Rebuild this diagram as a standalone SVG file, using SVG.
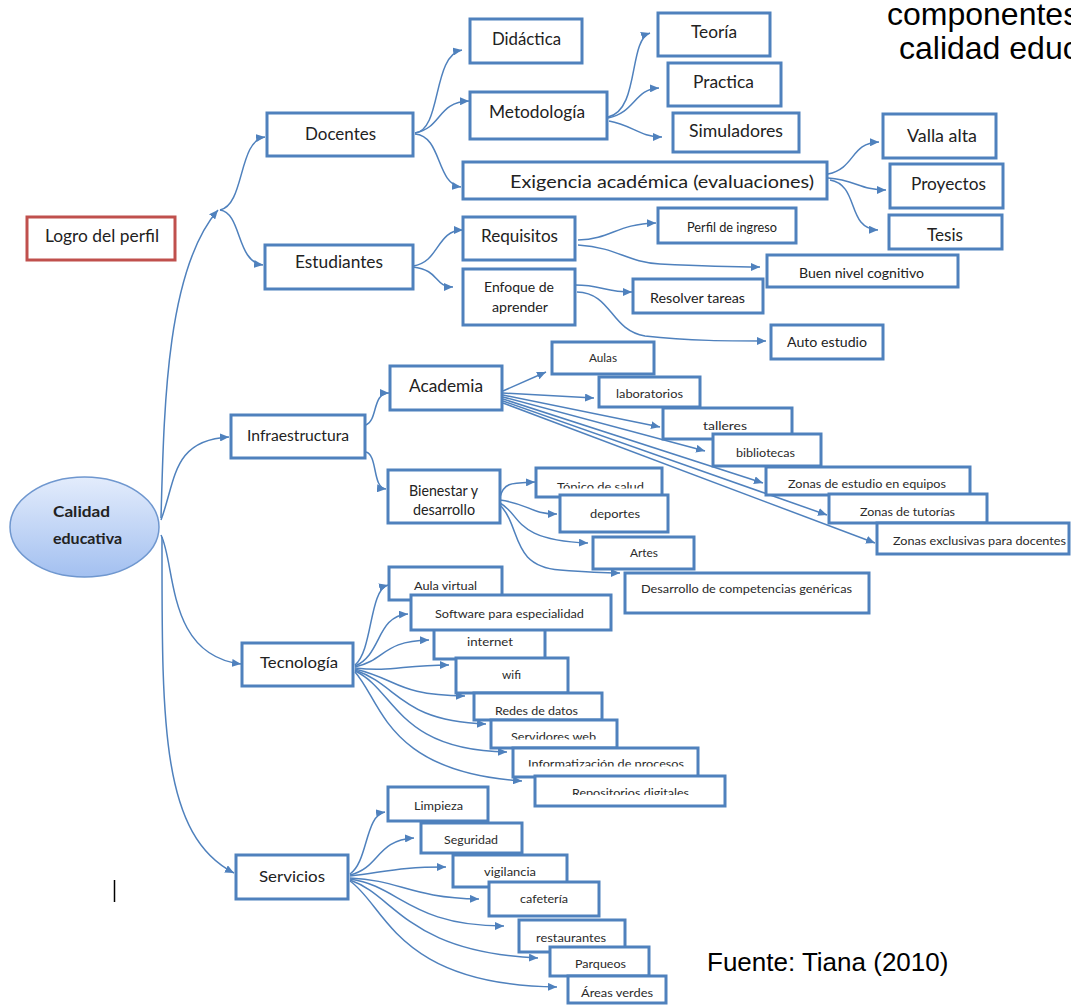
<svg xmlns="http://www.w3.org/2000/svg" width="1071" height="1005" viewBox="0 0 1071 1005">
  <style>
    .box { fill: #ffffff; stroke: #4f81bd; stroke-width: 3; }
    .box-red { fill: #ffffff; stroke: #c0504d; stroke-width: 3; }
    .lbl { font-family: Lato, "Open Sans", sans-serif; fill: #222222; text-anchor: middle; }
    .big { font-size: 17px; }
    .mid { font-size: 14px; }
    .sm { font-size: 12px; fill: #2a2a2a; }
    .bold { font-weight: bold; }
    .conn path { fill: none; stroke: #4f81bd; stroke-width: 1.5; marker-end: url(#arrow); }
    .note { font-family: "Liberation Sans", Arial, sans-serif; fill: #000000; }
  </style>
  <defs>
    <marker id="arrow" viewBox="0 0 9 8" refX="9" refY="4" markerWidth="9" markerHeight="8" markerUnits="userSpaceOnUse" orient="auto">
      <path d="M0,0 L9,4 L0,8 z" fill="#4f81bd"/>
    </marker>
    <linearGradient id="ovalFill" x1="0" y1="0" x2="0" y2="1">
      <stop offset="0" stop-color="#e3ecfc"/>
      <stop offset="1" stop-color="#a3c0f0"/>
    </linearGradient>
    <clipPath id="clipTopico"><rect x="536" y="468" width="126" height="20.5"/></clipPath>
    <clipPath id="clipServidores"><rect x="491" y="720" width="126" height="19.5"/></clipPath>
    <clipPath id="clipInfo"><rect x="513" y="748" width="185" height="18.5"/></clipPath>
    <clipPath id="clipRepo"><rect x="535" y="776" width="190" height="19"/></clipPath>
    <clipPath id="clipEquipos"><rect x="766" y="467" width="204" height="23"/></clipPath>
    <clipPath id="clipCognitivo"><rect x="767" y="255" width="191" height="26"/></clipPath>
    <clipPath id="clipParqueos"><rect x="550" y="947" width="99" height="23"/></clipPath>
  </defs>

  <rect width="1071" height="1005" fill="#ffffff"/>

  <!-- heading and source -->
  <text class="note" x="887" y="25" font-size="32">componentes</text>
  <text class="note" x="899" y="59" font-size="32">calidad educ</text>
  <text class="note" x="707" y="971" font-size="26">Fuente: Tiana (2010)</text>
  <line x1="114.5" y1="880" x2="114.5" y2="902" stroke="#000000" stroke-width="1.5"/>

  <!-- connectors -->
  <g id="connectors" class="conn">
    <path d="M161,518 C164,410 166,270 218,210"/>
    <path d="M220,210 C245,205 238,140 265,137"/>
    <path d="M220,210 C242,213 236,262 263,265"/>
    <path d="M161,520 C176,480 172,440 229,437"/>
    <path d="M161,535 C176,565 166,655 241,664"/>
    <path d="M162,537 C162,720 160,835 234,873"/>

    <path d="M415,133 C442,130 432,55 462,50"/>
    <path d="M415,133 C442,128 437,102 469,101"/>
    <path d="M415,134 C442,136 436,184 461,187"/>

    <path d="M608,117 C640,110 628,40 650,33"/>
    <path d="M608,118 C636,112 634,89 659,88"/>
    <path d="M609,121 C632,125 640,137 662,137"/>

    <path d="M828,174 C856,168 850,143 879,142"/>
    <path d="M828,178 C856,180 860,190 886,190"/>
    <path d="M830,180 C860,185 846,229 878,230"/>

    <path d="M413,266 C440,262 436,230 463,230"/>
    <path d="M413,267 C440,270 434,287 453,287"/>

    <path d="M578,240 C612,239 616,224 656,223"/>
    <path d="M578,245 C620,248 625,262 660,264 C700,266 735,267 760,267"/>
    <path d="M575,285 C602,285 604,292 632,292"/>
    <path d="M577,292 C612,293 610,330 645,336 C690,341 730,341 766,341"/>

    <path d="M366,425 C378,420 372,393 389,393"/>
    <path d="M366,452 C378,455 372,488 386,489"/>

    <path d="M503,391 L546,372"/>
    <path d="M503,393 L594,398"/>
    <path d="M503,395 L660,427"/>
    <path d="M503,397 L705,451"/>
    <path d="M503,399 L763,483"/>
    <path d="M503,401 L827,515"/>
    <path d="M503,403 L875,543"/>

    <path d="M500,497 C504,482 512,483 535,482"/>
    <path d="M500,500 C530,504 530,514 557,514"/>
    <path d="M500,503 C522,515 512,540 588,543"/>
    <path d="M500,505 C522,528 510,566 560,570 C585,572 600,573 620,573"/>

    <path d="M355,665 C373,650 369,590 388,585"/>
    <path d="M355,666 C382,655 376,616 408,614"/>
    <path d="M355,667 C386,660 382,641 429,640"/>
    <path d="M355,668 C392,672 402,665 449,665"/>
    <path d="M355,669 C400,680 396,695 465,696"/>
    <path d="M355,670 C400,686 400,721 486,724"/>
    <path d="M355,671 C396,690 396,750 507,752"/>
    <path d="M355,672 C382,702 386,772 522,781"/>

    <path d="M350,874 C368,862 365,815 385,812"/>
    <path d="M350,875 C380,868 376,840 414,838"/>
    <path d="M350,876 C390,871 400,867 446,867"/>
    <path d="M350,878 C400,880 410,898 479,899"/>
    <path d="M350,879 C400,886 410,926 504,926"/>
    <path d="M350,880 C396,896 406,952 538,958"/>
    <path d="M350,881 C386,906 396,985 557,987"/>
  </g>

  <!-- root -->
  <g id="node-calidad">
    <ellipse cx="84.5" cy="527" rx="74.5" ry="50" fill="url(#ovalFill)" stroke="#6f97cf" stroke-width="1.5"/>
    <text class="lbl bold" x="81.5" y="517" font-size="16" textLength="57" lengthAdjust="spacingAndGlyphs">Calidad</text>
    <text class="lbl bold" x="87.5" y="544" font-size="16" textLength="69" lengthAdjust="spacingAndGlyphs">educativa</text>
  </g>

  <g id="node-logro">
    <rect class="box-red" x="27" y="217" width="148" height="43"/>
    <text class="lbl big" x="102" y="242" textLength="114" lengthAdjust="spacingAndGlyphs">Logro del perfil</text>
  </g>

  <!-- first level -->
  <g id="node-docentes">
    <rect class="box" x="267" y="113" width="146" height="43"/>
    <text class="lbl big" x="340.5" y="140" textLength="71" lengthAdjust="spacingAndGlyphs">Docentes</text>
  </g>
  <g id="node-estudiantes">
    <rect class="box" x="265" y="245" width="148" height="44"/>
    <text class="lbl big" x="339" y="268" textLength="88" lengthAdjust="spacingAndGlyphs">Estudiantes</text>
  </g>
  <g id="node-infraestructura">
    <rect class="box" x="231" y="415" width="134" height="43"/>
    <text class="lbl" x="298" y="441" font-size="15.5" textLength="102" lengthAdjust="spacingAndGlyphs">Infraestructura</text>
  </g>
  <g id="node-tecnologia">
    <rect class="box" x="242" y="643" width="111" height="43"/>
    <text class="lbl" x="299" y="668" font-size="16" textLength="78" lengthAdjust="spacingAndGlyphs">Tecnología</text>
  </g>
  <g id="node-servicios">
    <rect class="box" x="236" y="855" width="112" height="44"/>
    <text class="lbl" x="292" y="882" font-size="16" textLength="66" lengthAdjust="spacingAndGlyphs">Servicios</text>
  </g>

  <!-- Docentes branch -->
  <g id="node-didactica">
    <rect class="box" x="470" y="19" width="112" height="44"/>
    <text class="lbl big" x="526.5" y="45" textLength="69" lengthAdjust="spacingAndGlyphs">Didáctica</text>
  </g>
  <g id="node-metodologia">
    <rect class="box" x="470" y="92" width="137" height="47"/>
    <text class="lbl big" x="537" y="118" textLength="96" lengthAdjust="spacingAndGlyphs">Metodología</text>
  </g>
  <g id="node-exigencia">
    <rect class="box" x="463" y="162" width="364" height="37"/>
    <text class="lbl big" x="662" y="188" textLength="304" lengthAdjust="spacingAndGlyphs">Exigencia académica (evaluaciones)</text>
  </g>
  <g id="node-teoria">
    <rect class="box" x="658" y="13" width="112" height="43"/>
    <text class="lbl big" x="714" y="38" textLength="46" lengthAdjust="spacingAndGlyphs">Teoría</text>
  </g>
  <g id="node-practica">
    <rect class="box" x="668" y="63" width="113" height="43"/>
    <text class="lbl big" x="723.5" y="88" textLength="61" lengthAdjust="spacingAndGlyphs">Practica</text>
  </g>
  <g id="node-simuladores">
    <rect class="box" x="673" y="113" width="126" height="39"/>
    <text class="lbl big" x="736" y="137" textLength="94" lengthAdjust="spacingAndGlyphs">Simuladores</text>
  </g>
  <g id="node-valla">
    <rect class="box" x="883" y="114" width="113" height="44"/>
    <text class="lbl big" x="942" y="142" textLength="70" lengthAdjust="spacingAndGlyphs">Valla alta</text>
  </g>
  <g id="node-proyectos">
    <rect class="box" x="890" y="164" width="113" height="44"/>
    <text class="lbl big" x="948.5" y="190" textLength="75" lengthAdjust="spacingAndGlyphs">Proyectos</text>
  </g>
  <g id="node-tesis">
    <rect class="box" x="889" y="215" width="113" height="34"/>
    <text class="lbl big" x="945" y="241" textLength="36" lengthAdjust="spacingAndGlyphs">Tesis</text>
  </g>

  <!-- Estudiantes branch -->
  <g id="node-requisitos">
    <rect class="box" x="463" y="217" width="112" height="43"/>
    <text class="lbl big" x="519.5" y="242" textLength="77" lengthAdjust="spacingAndGlyphs">Requisitos</text>
  </g>
  <g id="node-enfoque">
    <rect class="box" x="463" y="269" width="112" height="56"/>
    <text class="lbl mid" x="519" y="292" textLength="70" lengthAdjust="spacingAndGlyphs">Enfoque de</text>
    <text class="lbl mid" x="520" y="312" textLength="56" lengthAdjust="spacingAndGlyphs">aprender</text>
  </g>
  <g id="node-perfil">
    <rect class="box" x="658" y="208" width="138" height="35"/>
    <text class="lbl" x="732" y="232" font-size="13" textLength="90" lengthAdjust="spacingAndGlyphs">Perfil de ingreso</text>
  </g>
  <g id="node-cognitivo">
    <rect class="box" x="767" y="255" width="191" height="32"/>
    <text class="lbl" x="861.5" y="278" font-size="13" textLength="125" lengthAdjust="spacingAndGlyphs" clip-path="url(#clipCognitivo)">Buen nivel cognitivo</text>
  </g>
  <g id="node-resolver">
    <rect class="box" x="633" y="279" width="130" height="34"/>
    <text class="lbl mid" x="697.5" y="303" textLength="95" lengthAdjust="spacingAndGlyphs">Resolver tareas</text>
  </g>
  <g id="node-autoestudio">
    <rect class="box" x="771" y="325" width="112" height="34"/>
    <text class="lbl mid" x="827" y="347" textLength="80" lengthAdjust="spacingAndGlyphs">Auto estudio</text>
  </g>

  <!-- Infraestructura branch -->
  <g id="node-academia">
    <rect class="box" x="390" y="366" width="112" height="44"/>
    <text class="lbl big" x="446" y="392" textLength="74" lengthAdjust="spacingAndGlyphs">Academia</text>
  </g>
  <g id="node-bienestar">
    <rect class="box" x="388" y="470" width="112" height="53"/>
    <text class="lbl" x="443.5" y="496" font-size="14.5" textLength="69" lengthAdjust="spacingAndGlyphs">Bienestar y</text>
    <text class="lbl" x="444" y="515" font-size="14.5" textLength="62" lengthAdjust="spacingAndGlyphs">desarrollo</text>
  </g>
  <g id="node-aulas">
    <rect class="box" x="552" y="342" width="102" height="32"/>
    <text class="lbl sm" x="603" y="362" textLength="28" lengthAdjust="spacingAndGlyphs">Aulas</text>
  </g>
  <g id="node-laboratorios">
    <rect class="box" x="599" y="377" width="101" height="30"/>
    <text class="lbl sm" x="649.5" y="398" textLength="67" lengthAdjust="spacingAndGlyphs">laboratorios</text>
  </g>
  <g id="node-talleres">
    <rect class="box" x="663" y="408" width="129" height="31"/>
    <text class="lbl sm" x="725" y="430" textLength="44" lengthAdjust="spacingAndGlyphs">talleres</text>
  </g>
  <g id="node-bibliotecas">
    <rect class="box" x="713" y="434" width="108" height="32"/>
    <text class="lbl sm" x="765.5" y="457" textLength="59" lengthAdjust="spacingAndGlyphs">bibliotecas</text>
  </g>
  <g id="node-equipos">
    <rect class="box" x="766" y="467" width="204" height="28"/>
    <text class="lbl sm" x="867" y="488" textLength="158" lengthAdjust="spacingAndGlyphs" clip-path="url(#clipEquipos)">Zonas de estudio en equipos</text>
  </g>
  <g id="node-tutorias">
    <rect class="box" x="829" y="494" width="158" height="29"/>
    <text class="lbl sm" x="907.5" y="516" textLength="95" lengthAdjust="spacingAndGlyphs">Zonas de tutorías</text>
  </g>
  <g id="node-exclusivas">
    <rect class="box" x="877" y="523" width="192" height="31"/>
    <text class="lbl sm" x="979.5" y="545" textLength="173" lengthAdjust="spacingAndGlyphs">Zonas exclusivas para docentes</text>
  </g>
  <g id="node-topico">
    <rect class="box" x="536" y="468" width="126" height="29"/>
    <text class="lbl sm" x="600.5" y="491" textLength="87" lengthAdjust="spacingAndGlyphs" clip-path="url(#clipTopico)">Tópico de salud</text>
  </g>
  <g id="node-deportes">
    <rect class="box" x="560" y="495" width="108" height="37"/>
    <text class="lbl sm" x="615" y="518" textLength="50" lengthAdjust="spacingAndGlyphs">deportes</text>
  </g>
  <g id="node-artes">
    <rect class="box" x="593" y="537" width="101" height="32"/>
    <text class="lbl sm" x="644" y="557" textLength="28" lengthAdjust="spacingAndGlyphs">Artes</text>
  </g>
  <g id="node-competencias">
    <rect class="box" x="625" y="573" width="244" height="40"/>
    <text class="lbl sm" x="746.5" y="593" textLength="211" lengthAdjust="spacingAndGlyphs">Desarrollo de competencias genéricas</text>
  </g>

  <!-- Tecnología branch -->
  <g id="node-internet">
    <rect class="box" x="434" y="628" width="111" height="31"/>
    <text class="lbl sm" x="490" y="646" textLength="46" lengthAdjust="spacingAndGlyphs">internet</text>
  </g>
  <g id="node-aulavirtual">
    <rect class="box" x="389" y="567" width="113" height="33"/>
    <text class="lbl sm" x="445.5" y="590" textLength="63" lengthAdjust="spacingAndGlyphs">Aula virtual</text>
  </g>
  <g id="node-software">
    <rect class="box" x="411" y="595" width="200" height="35"/>
    <text class="lbl sm" x="509.5" y="618" textLength="149" lengthAdjust="spacingAndGlyphs">Software para especialidad</text>
  </g>
  <g id="node-wifi">
    <rect class="box" x="456" y="658" width="112" height="35"/>
    <text class="lbl sm" x="511.5" y="679" textLength="19" lengthAdjust="spacingAndGlyphs">wifi</text>
  </g>
  <g id="node-redes">
    <rect class="box" x="474" y="693" width="128" height="27"/>
    <text class="lbl sm" x="536.5" y="715" textLength="83" lengthAdjust="spacingAndGlyphs">Redes de datos</text>
  </g>
  <g id="node-servidores">
    <rect class="box" x="491" y="720" width="126" height="28"/>
    <text class="lbl sm" x="553.5" y="741" textLength="85" lengthAdjust="spacingAndGlyphs" clip-path="url(#clipServidores)">Servidores web</text>
  </g>
  <g id="node-informatizacion">
    <rect class="box" x="513" y="748" width="185" height="29"/>
    <text class="lbl sm" x="606" y="768" textLength="156" lengthAdjust="spacingAndGlyphs" clip-path="url(#clipInfo)">Informatización de procesos</text>
  </g>
  <g id="node-repositorios">
    <rect class="box" x="535" y="776" width="190" height="30"/>
    <text class="lbl sm" x="630.5" y="797" textLength="117" lengthAdjust="spacingAndGlyphs" clip-path="url(#clipRepo)">Repositorios digitales</text>
  </g>

  <!-- Servicios branch -->
  <g id="node-limpieza">
    <rect class="box" x="388" y="787" width="100" height="34"/>
    <text class="lbl sm" x="438.5" y="810" textLength="49" lengthAdjust="spacingAndGlyphs">Limpieza</text>
  </g>
  <g id="node-seguridad">
    <rect class="box" x="421" y="823" width="101" height="30"/>
    <text class="lbl sm" x="471" y="844" textLength="54" lengthAdjust="spacingAndGlyphs">Seguridad</text>
  </g>
  <g id="node-vigilancia">
    <rect class="box" x="453" y="855" width="114" height="32"/>
    <text class="lbl sm" x="510" y="876" textLength="52" lengthAdjust="spacingAndGlyphs">vigilancia</text>
  </g>
  <g id="node-cafeteria">
    <rect class="box" x="489" y="882" width="110" height="34"/>
    <text class="lbl sm" x="544" y="903" textLength="48" lengthAdjust="spacingAndGlyphs">cafetería</text>
  </g>
  <g id="node-restaurantes">
    <rect class="box" x="519" y="920" width="106" height="32"/>
    <text class="lbl sm" x="571" y="942" textLength="70" lengthAdjust="spacingAndGlyphs">restaurantes</text>
  </g>
  <g id="node-parqueos">
    <rect class="box" x="550" y="947" width="99" height="29"/>
    <text class="lbl sm" x="600.5" y="968" textLength="51" lengthAdjust="spacingAndGlyphs" clip-path="url(#clipParqueos)">Parqueos</text>
  </g>
  <g id="node-areas">
    <rect class="box" x="568" y="976" width="98" height="27"/>
    <text class="lbl sm" x="617" y="997" textLength="72" lengthAdjust="spacingAndGlyphs">Áreas verdes</text>
  </g>
</svg>
